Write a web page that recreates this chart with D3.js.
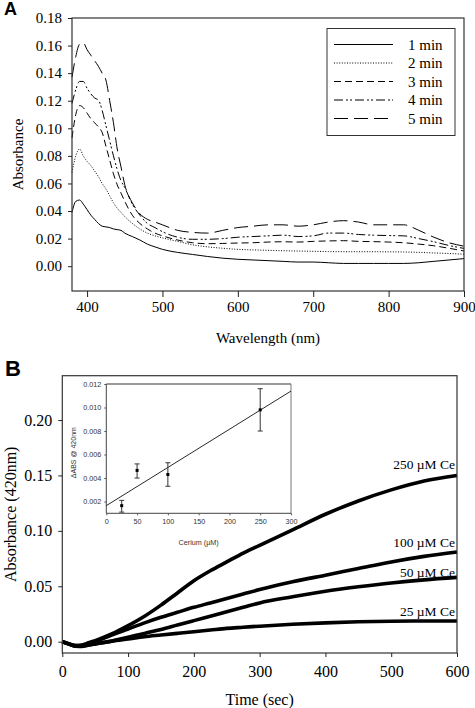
<!DOCTYPE html>
<html><head><meta charset="utf-8">
<script src="https://cdn.jsdelivr.net/npm/d3@7"></script>
<style>
html,body{margin:0;padding:0;background:#fff;}
svg{display:block;}
</style></head>
<body>
<svg id="chart" width="475" height="708"></svg>
<script>
// ---------- Panel A data ----------
const wavelengths = [380,385,390,395,400,405,410,415,420,425,430,435,440,445,450,460,470,480,490,500,520,540,560,580,600,620,640,660,680,700,720,740,760,780,800,820,840,860,880,900];
const min1 = [0.039,0.047,0.048,0.045,0.041,0.037,0.034,0.031,0.029,0.0285,0.028,0.027,0.0265,0.026,0.024,0.0215,0.019,0.016,0.014,0.0122,0.010,0.0085,0.007,0.0058,0.005,0.0045,0.004,0.0035,0.003,0.003,0.0025,0.002,0.002,0.002,0.002,0.002,0.0025,0.0035,0.0045,0.0055];
const min2 = [0.068,0.080,0.085,0.080,0.076,0.073,0.069,0.065,0.060,0.056,0.051,0.046,0.042,0.039,0.036,0.031,0.027,0.024,0.022,0.0205,0.018,0.0155,0.014,0.013,0.0122,0.0118,0.0115,0.0112,0.011,0.0108,0.0106,0.0105,0.0105,0.0105,0.0104,0.0103,0.0100,0.0096,0.0092,0.0087];
const min3 = [0.093,0.110,0.1165,0.115,0.111,0.107,0.104,0.101,0.097,0.087,0.077,0.067,0.059,0.053,0.047,0.037,0.031,0.027,0.024,0.022,0.019,0.017,0.0163,0.0165,0.0168,0.017,0.0175,0.0177,0.0175,0.018,0.0183,0.0185,0.018,0.0178,0.0175,0.017,0.016,0.0148,0.013,0.011];
const min4 = [0.118,0.128,0.134,0.134,0.129,0.125,0.122,0.1205,0.113,0.102,0.091,0.080,0.070,0.062,0.057,0.045,0.037,0.031,0.028,0.025,0.021,0.0195,0.0195,0.020,0.021,0.0215,0.022,0.0225,0.0215,0.022,0.024,0.024,0.023,0.0225,0.0222,0.022,0.020,0.0177,0.015,0.0129];
const min5 = [0.137,0.152,0.161,0.162,0.157,0.153,0.149,0.145,0.140,0.135,0.120,0.104,0.085,0.072,0.059,0.046,0.038,0.034,0.032,0.030,0.026,0.0245,0.024,0.026,0.028,0.029,0.030,0.030,0.029,0.030,0.032,0.033,0.032,0.030,0.030,0.030,0.026,0.021,0.017,0.0145];
const seriesNamesA = ["1 min","2 min","3 min","4 min","5 min"];
const xTicksA = [400,500,600,700,800,900];
const yTicksA = [0.00,0.02,0.04,0.06,0.08,0.10,0.12,0.14,0.16,0.18];

// ---------- Panel B data ----------
const times = [0,10,20,30,40,50,75,100,125,150,175,200,225,250,275,300,350,400,450,500,550,600];
const ce250 = [0,-0.002,-0.0035,-0.003,-0.001,0.001,0.007,0.0145,0.023,0.033,0.044,0.055,0.064,0.072,0.080,0.087,0.101,0.115,0.127,0.137,0.145,0.150];
const ce100 = [0,-0.002,-0.0035,-0.0035,-0.002,0.0,0.006,0.0115,0.017,0.022,0.0265,0.031,0.035,0.039,0.043,0.047,0.054,0.060,0.066,0.072,0.077,0.081];
const ce50  = [0,-0.002,-0.004,-0.0042,-0.003,-0.002,0.0005,0.004,0.0075,0.011,0.015,0.019,0.023,0.027,0.031,0.035,0.0405,0.0455,0.0495,0.053,0.0558,0.058];
const ce25  = [0,-0.002,-0.004,-0.004,-0.003,-0.002,0.0005,0.0025,0.0045,0.006,0.0075,0.009,0.0105,0.012,0.013,0.014,0.0157,0.017,0.018,0.0185,0.0187,0.0187];
const seriesNamesB = ["250 \u00B5M Ce","100 \u00B5M Ce","50 \u00B5M Ce","25 \u00B5M Ce"];
const labelValuesB = [0.1554,0.0853,0.0584,0.0232];
const xTicksB = [0,100,200,300,400,500,600];
const yTicksB = [0.00,0.05,0.10,0.15,0.20];

// ---------- Inset data ----------
const ceriumConc = [25,50,100,250];
const deltaAbs = [0.00165,0.00465,0.0043,0.0098];
const errLow  = [0.0011,0.0040,0.0033,0.0080];
const errHigh = [0.0021,0.0052,0.0053,0.0116];
const fitIntercept = 0.00165;
const fitSlope = 0.0000325;
const fitRange = [0,300];
const xTicksIn = [0,50,100,150,200,250,300];
const yTicksIn = [0.002,0.004,0.006,0.008,0.010,0.012];

const serif = "'Liberation Serif','Times New Roman',serif";
const sans = "'Liberation Sans',Arial,sans-serif";
const svg = d3.select("#chart");

// ================= PANEL A =================
const A = {l:72, r:464, t:18, b:291};
const xA = d3.scaleLinear().domain([380,900]).range([A.l,A.r]);
const yA = d3.scaleLinear().domain([-0.018,0.18]).range([A.b,A.t]);
const gA = svg.append("g");

const dashesA = [null,"1,1.6","7,4","9,3,2,2,2,3","14,6"];
const seriesA = [min1,min2,min3,min4,min5];
const lineA = d3.line().x((d,i)=>xA(wavelengths[i])).y(d=>yA(d)).curve(d3.curveMonotoneX);
seriesA.forEach((s,k)=>{
  gA.append("path").attr("d",lineA(s)).attr("fill","none").attr("stroke","#000")
    .attr("stroke-width",1).attr("stroke-dasharray",dashesA[k]);
});

gA.append("rect").attr("x",A.l).attr("y",A.t).attr("width",A.r-A.l).attr("height",A.b-A.t)
  .attr("fill","none").attr("stroke","#333").attr("stroke-width",1.2);

const axAx = gA.append("g").attr("transform",`translate(0,${A.b})`)
  .call(d3.axisBottom(xA).tickValues(xTicksA).tickSize(6).tickSizeOuter(0).tickPadding(4));
const axAy = gA.append("g").attr("transform",`translate(${A.l},0)`)
  .call(d3.axisLeft(yA).tickValues(yTicksA).tickFormat(d3.format(".2f")).tickSize(4).tickSizeOuter(0).tickPadding(6));
[axAx,axAy].forEach(ax=>{
  ax.select(".domain").remove();
  ax.selectAll("line").attr("stroke","#222");
  ax.selectAll("text").attr("font-family",serif).attr("font-size",15).attr("fill","#000");
});
gA.append("text").attr("x",(A.l+A.r)/2).attr("y",343).attr("text-anchor","middle")
  .attr("font-family",serif).attr("font-size",15).text("Wavelength (nm)");
gA.append("text").attr("transform",`translate(23,${(A.t+A.b)/2}) rotate(-90)`).attr("text-anchor","middle")
  .attr("font-family",serif).attr("font-size",15).text("Absorbance");
svg.append("text").attr("x",4).attr("y",15).attr("font-family",sans).attr("font-weight","bold")
  .attr("font-size",18).text("A");

// legend
const leg = gA.append("g");
leg.append("rect").attr("x",327).attr("y",28.5).attr("width",128).attr("height",107)
  .attr("fill","#fff").attr("stroke","#333").attr("stroke-width",1);
seriesNamesA.forEach((n,k)=>{
  const yy = 44.5 + k*18.5;
  leg.append("line").attr("x1",334).attr("x2",393).attr("y1",yy).attr("y2",yy)
    .attr("stroke","#000").attr("stroke-width",1).attr("stroke-dasharray",dashesA[k]);
  leg.append("text").attr("x",408).attr("y",yy+5).attr("font-family",serif).attr("font-size",15).text(n);
});

// ================= PANEL B =================
const B = {l:62.3, r:457, t:375.7, b:653};
const xB = d3.scaleLinear().domain([0,600]).range([B.l,B.r]);
const yB = d3.scaleLinear().domain([-0.0102,0.24]).range([B.b,B.t]);
const gB = svg.append("g");
const seriesB = [ce250,ce100,ce50,ce25];
const lineB = d3.line().x((d,i)=>xB(times[i])).y(d=>yB(d)).curve(d3.curveMonotoneX);
seriesB.forEach(s=>{
  gB.append("path").attr("d",lineB(s)).attr("fill","none").attr("stroke","#000")
    .attr("stroke-width",3.6).attr("stroke-linejoin","round");
});
gB.append("rect").attr("x",B.l).attr("y",B.t).attr("width",B.r-B.l).attr("height",B.b-B.t)
  .attr("fill","none").attr("stroke","#333").attr("stroke-width",1.2);
const axBx = gB.append("g").attr("transform",`translate(0,${B.b})`)
  .call(d3.axisBottom(xB).tickValues(xTicksB).tickSize(4).tickSizeOuter(0).tickPadding(9));
const axBy = gB.append("g").attr("transform",`translate(${B.l},0)`)
  .call(d3.axisLeft(yB).tickValues(yTicksB).tickFormat(d3.format(".2f")).tickSize(4).tickSizeOuter(0).tickPadding(6));
[axBx,axBy].forEach(ax=>{
  ax.select(".domain").remove();
  ax.selectAll("line").attr("stroke","#222");
  ax.selectAll("text").attr("font-family",serif).attr("font-size",16).attr("fill","#000");
});
gB.append("text").attr("x",(B.l+B.r)/2).attr("y",705).attr("text-anchor","middle")
  .attr("font-family",serif).attr("font-size",16).text("Time (sec)");
gB.append("text").attr("transform",`translate(16,${(B.t+B.b)/2}) rotate(-90)`).attr("text-anchor","middle")
  .attr("font-family",serif).attr("font-size",16).text("Absorbance (420nm)");
svg.append("text").attr("x",5).attr("y",376).attr("font-family",sans).attr("font-weight","bold")
  .attr("font-size",22).text("B");
seriesNamesB.forEach((n,k)=>{
  gB.append("text").attr("x",455).attr("y",yB(labelValuesB[k])).attr("text-anchor","end")
    .attr("font-family",serif).attr("font-size",13.5).text(n);
});

// ================= INSET =================
const I = {l:106.3, r:291, t:384, b:513.3};
const xI = d3.scaleLinear().domain([0,300]).range([I.l,I.r]);
const yI = d3.scaleLinear().domain([0.001,0.012]).range([I.b,I.t]);
const gI = svg.append("g");
gI.append("line").attr("x1",I.l).attr("x2",I.r).attr("y1",I.t).attr("y2",I.t).attr("stroke","#999").attr("stroke-width",2.2);
gI.append("line").attr("x1",I.r).attr("x2",I.r).attr("y1",I.t).attr("y2",I.b).attr("stroke","#777").attr("stroke-width",1);
gI.append("line").attr("x1",I.l).attr("x2",I.l).attr("y1",I.t).attr("y2",I.b).attr("stroke","#444").attr("stroke-width",1);
gI.append("line").attr("x1",I.l).attr("x2",I.r).attr("y1",I.b).attr("y2",I.b).attr("stroke","#444").attr("stroke-width",1);
const axIx = gI.append("g").attr("transform",`translate(0,${I.b})`)
  .call(d3.axisBottom(xI).tickValues(xTicksIn).tickSize(2).tickSizeOuter(0).tickPadding(4));
const axIy = gI.append("g").attr("transform",`translate(${I.l},0)`)
  .call(d3.axisLeft(yI).tickValues(yTicksIn).tickFormat(d3.format(".3f")).tickSize(2).tickSizeOuter(0).tickPadding(3));
[axIx,axIy].forEach(ax=>{
  ax.select(".domain").remove();
  ax.selectAll("line").attr("stroke","#555");
  ax.selectAll("text").attr("font-family",sans).attr("font-size",7.2).attr("fill","#333");
});
gI.append("text").attr("x",(I.l+I.r)/2).attr("y",545).attr("text-anchor","middle")
  .attr("font-family",sans).attr("font-size",7.2).attr("fill","#333").text("Cerium (\u00B5M)");
gI.append("text").attr("transform",`translate(76,${(I.t+I.b)/2 + 4}) rotate(-90)`).attr("text-anchor","middle")
  .attr("font-family",sans).attr("font-size",7).attr("fill","#333").text("\u0394ABS @ 420nm");
// fit line
gI.append("line").attr("x1",xI(fitRange[0])).attr("y1",yI(fitIntercept+fitSlope*fitRange[0]))
  .attr("x2",xI(fitRange[1])).attr("y2",yI(fitIntercept+fitSlope*fitRange[1]))
  .attr("stroke","#111").attr("stroke-width",0.9);
// error bars and points
ceriumConc.forEach((c,i)=>{
  const cx = xI(c);
  gI.append("line").attr("x1",cx).attr("x2",cx).attr("y1",yI(errLow[i])).attr("y2",yI(errHigh[i])).attr("stroke","#333").attr("stroke-width",1);
  [errLow[i],errHigh[i]].forEach(v=>{
    gI.append("line").attr("x1",cx-2.5).attr("x2",cx+2.5).attr("y1",yI(v)).attr("y2",yI(v)).attr("stroke","#333").attr("stroke-width",1);
  });
  gI.append("rect").attr("x",cx-1.5).attr("y",yI(deltaAbs[i])-1.5).attr("width",3).attr("height",3).attr("fill","#000");
});
</script>
</body></html>
